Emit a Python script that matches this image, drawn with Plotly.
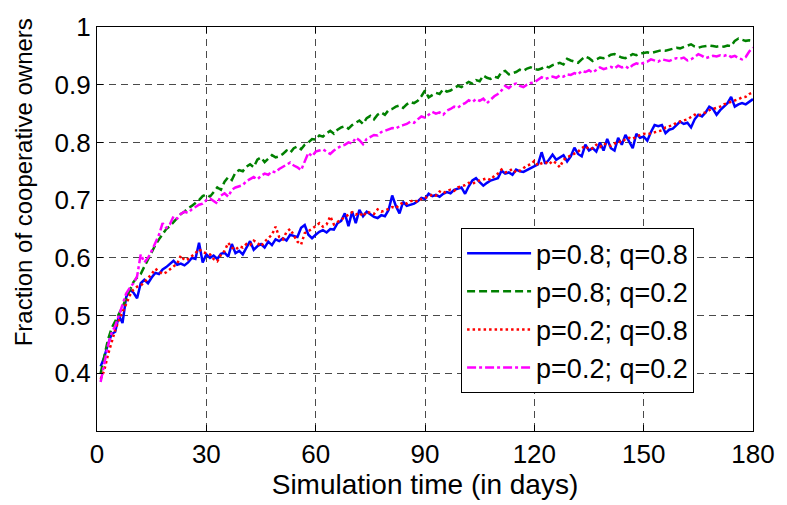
import plotly.graph_objects as go

# Simulation day (one sample per day)
days = list(range(1, 181))

# Fraction of cooperative owners for each (p, q) setting
frac_p08_q08 = [
    0.412, 0.428, 0.450, 0.468, 0.472, 0.500, 0.487, 0.532, 0.545, 0.540,
    0.530, 0.556, 0.562, 0.556, 0.566, 0.574, 0.572, 0.580, 0.584, 0.589,
    0.595, 0.588, 0.590, 0.587, 0.592, 0.600, 0.598, 0.626, 0.592, 0.606,
    0.600, 0.604, 0.598, 0.607, 0.609, 0.602, 0.624, 0.608, 0.612, 0.606,
    0.618, 0.629, 0.614, 0.620, 0.624, 0.618, 0.628, 0.622, 0.632, 0.629,
    0.634, 0.630, 0.640, 0.638, 0.636, 0.652, 0.657, 0.640, 0.634, 0.640,
    0.645, 0.648, 0.644, 0.650, 0.649, 0.660, 0.664, 0.677, 0.655, 0.680,
    0.660, 0.683, 0.672, 0.680, 0.676, 0.671, 0.669, 0.674, 0.672, 0.683,
    0.708, 0.690, 0.677, 0.697, 0.690, 0.692, 0.694, 0.698, 0.704, 0.702,
    0.711, 0.707, 0.709, 0.706, 0.711, 0.714, 0.712, 0.718, 0.720, 0.722,
    0.711, 0.724, 0.734, 0.738, 0.731, 0.725, 0.730, 0.734, 0.736, 0.738,
    0.751, 0.746, 0.748, 0.744, 0.753, 0.750, 0.749, 0.752, 0.755, 0.758,
    0.762, 0.783, 0.763, 0.770, 0.779, 0.770, 0.774, 0.778, 0.767, 0.776,
    0.791, 0.780, 0.776, 0.796, 0.786, 0.790, 0.784, 0.800, 0.786, 0.806,
    0.790, 0.786, 0.808, 0.796, 0.813, 0.800, 0.790, 0.815, 0.808, 0.810,
    0.803, 0.818, 0.830, 0.828, 0.830, 0.816, 0.822, 0.824, 0.830, 0.836,
    0.832, 0.834, 0.826, 0.840, 0.848, 0.845, 0.852, 0.862, 0.858, 0.848,
    0.856, 0.862, 0.868, 0.879, 0.862, 0.866, 0.868, 0.866, 0.870, 0.875,
]

frac_p08_q02 = [
    0.400, 0.430, 0.458, 0.478, 0.490, 0.502, 0.515, 0.530, 0.545, 0.558,
    0.566, 0.572, 0.585, 0.598, 0.610, 0.622, 0.632, 0.640, 0.650, 0.655,
    0.662, 0.668, 0.676, 0.680, 0.686, 0.690, 0.695, 0.700, 0.707, 0.710,
    0.706, 0.714, 0.722, 0.718, 0.732, 0.740, 0.735, 0.748, 0.752, 0.750,
    0.758, 0.762, 0.757, 0.770, 0.774, 0.766, 0.772, 0.778, 0.774, 0.776,
    0.780, 0.786, 0.782, 0.790, 0.793, 0.788, 0.796, 0.800, 0.806, 0.805,
    0.812, 0.810, 0.816, 0.820, 0.815, 0.822, 0.826, 0.828, 0.824, 0.830,
    0.834, 0.838, 0.832, 0.842, 0.846, 0.840, 0.848, 0.852, 0.848, 0.856,
    0.858, 0.862, 0.864, 0.860, 0.866, 0.870, 0.868, 0.872, 0.880, 0.890,
    0.878, 0.882, 0.886, 0.884, 0.892, 0.888, 0.890, 0.894, 0.898, 0.896,
    0.900, 0.905, 0.902, 0.908, 0.906, 0.916, 0.912, 0.910, 0.914, 0.912,
    0.922, 0.924, 0.918, 0.920, 0.922, 0.926, 0.924, 0.928, 0.930, 0.927,
    0.926, 0.928, 0.932, 0.930, 0.934, 0.936, 0.938, 0.935, 0.945, 0.942,
    0.940, 0.938, 0.944, 0.949, 0.946, 0.941, 0.944, 0.947, 0.946, 0.948,
    0.952, 0.953, 0.950, 0.947, 0.946, 0.950, 0.953, 0.951, 0.954, 0.955,
    0.956, 0.955, 0.957, 0.958, 0.960, 0.959, 0.961, 0.962, 0.964, 0.963,
    0.965, 0.968, 0.970, 0.966, 0.964, 0.966, 0.967, 0.968, 0.967, 0.966,
    0.967, 0.966, 0.968, 0.967, 0.976, 0.980, 0.978, 0.976, 0.977, 0.976,
]

frac_p02_q08 = [
    0.390, 0.405, 0.432, 0.455, 0.475, 0.492, 0.505, 0.520, 0.535, 0.545,
    0.550, 0.552, 0.558, 0.565, 0.572, 0.581, 0.576, 0.572, 0.575, 0.580,
    0.584, 0.590, 0.604, 0.596, 0.598, 0.603, 0.608, 0.615, 0.610, 0.608,
    0.606, 0.598, 0.594, 0.605, 0.612, 0.626, 0.618, 0.614, 0.620, 0.618,
    0.624, 0.622, 0.630, 0.626, 0.620, 0.628, 0.634, 0.640, 0.654, 0.636,
    0.632, 0.645, 0.650, 0.640, 0.628, 0.623, 0.643, 0.646, 0.650, 0.655,
    0.660, 0.654, 0.658, 0.672, 0.658, 0.662, 0.666, 0.670, 0.674, 0.679,
    0.675, 0.678, 0.672, 0.680, 0.678, 0.676, 0.684, 0.680, 0.682, 0.685,
    0.688, 0.686, 0.692, 0.696, 0.694, 0.698, 0.700, 0.697, 0.702, 0.704,
    0.706, 0.710, 0.708, 0.715, 0.712, 0.716, 0.718, 0.716, 0.722, 0.724,
    0.726, 0.730, 0.728, 0.732, 0.734, 0.736, 0.738, 0.735, 0.742, 0.746,
    0.753, 0.748, 0.750, 0.754, 0.748, 0.751, 0.756, 0.760, 0.762, 0.768,
    0.760, 0.764, 0.766, 0.762, 0.768, 0.764, 0.757, 0.770, 0.774, 0.777,
    0.780, 0.784, 0.790, 0.794, 0.788, 0.790, 0.796, 0.792, 0.798, 0.796,
    0.794, 0.798, 0.802, 0.800, 0.806, 0.808, 0.806, 0.810, 0.812, 0.815,
    0.814, 0.816, 0.818, 0.820, 0.821, 0.826, 0.828, 0.830, 0.834, 0.836,
    0.838, 0.840, 0.844, 0.848, 0.846, 0.850, 0.852, 0.856, 0.858, 0.860,
    0.862, 0.866, 0.868, 0.870, 0.872, 0.875, 0.878, 0.879, 0.884, 0.887,
]

frac_p02_q02 = [
    0.385, 0.418, 0.448, 0.470, 0.482, 0.500, 0.520, 0.538, 0.548, 0.556,
    0.568, 0.606, 0.592, 0.600, 0.612, 0.625, 0.640, 0.660, 0.652, 0.658,
    0.672, 0.668, 0.676, 0.680, 0.678, 0.684, 0.688, 0.692, 0.694, 0.700,
    0.703, 0.698, 0.694, 0.708, 0.712, 0.706, 0.718, 0.722, 0.724, 0.726,
    0.733, 0.737, 0.740, 0.736, 0.742, 0.746, 0.744, 0.750, 0.748, 0.754,
    0.758, 0.762, 0.765, 0.760, 0.757, 0.752, 0.768, 0.782, 0.776, 0.784,
    0.786, 0.788, 0.784, 0.780, 0.786, 0.790, 0.794, 0.796, 0.800, 0.798,
    0.808, 0.804, 0.797, 0.806, 0.810, 0.813, 0.812, 0.818, 0.820, 0.822,
    0.825, 0.824, 0.828, 0.830, 0.832, 0.836, 0.834, 0.840, 0.845, 0.843,
    0.848, 0.853, 0.850, 0.852, 0.848, 0.855, 0.858, 0.862, 0.860, 0.865,
    0.868, 0.873, 0.870, 0.875, 0.872, 0.876, 0.868, 0.874, 0.880, 0.884,
    0.890, 0.898, 0.894, 0.900, 0.902, 0.898, 0.896, 0.900, 0.903, 0.904,
    0.908, 0.913, 0.910, 0.912, 0.914, 0.912, 0.916, 0.914, 0.918, 0.917,
    0.920, 0.918, 0.924, 0.922, 0.925, 0.921, 0.926, 0.930, 0.927, 0.929,
    0.931, 0.928, 0.933, 0.930, 0.932, 0.928, 0.934, 0.937, 0.935, 0.938,
    0.940, 0.944, 0.942, 0.940, 0.944, 0.942, 0.941, 0.944, 0.946, 0.945,
    0.947, 0.942, 0.944, 0.948, 0.953, 0.950, 0.946, 0.948, 0.950, 0.949,
    0.951, 0.950, 0.952, 0.948, 0.950, 0.946, 0.944, 0.948, 0.958, 0.964,
]

series_names = ["p=0.8; q=0.8", "p=0.8; q=0.2", "p=0.2; q=0.8", "p=0.2; q=0.2"]
series_values = [frac_p08_q08, frac_p08_q02, frac_p02_q08, frac_p02_q02]

x_ticks = [0, 30, 60, 90, 120, 150, 180]
y_ticks = [0.4, 0.5, 0.6, 0.7, 0.8, 0.9, 1.0]
y_tick_labels = ["0.4", "0.5", "0.6", "0.7", "0.8", "0.9", "1"]

styles = [
    dict(color="#0000ff", dash="solid"),
    dict(color="#008000", dash="8px,4px"),
    dict(color="#ff0000", dash="2.5px,3px"),
    dict(color="#ff00ff", dash="9px,3px,3px,3px"),
]

FONT = "Liberation Sans, Arial, sans-serif"

fig = go.Figure()
for name, vals, st in zip(series_names, series_values, styles):
    fig.add_trace(go.Scatter(
        x=days, y=vals, mode="lines", name=name,
        line=dict(color=st["color"], dash=st["dash"], width=2.5),
    ))

axis_common = dict(
    showline=True, linecolor="black", linewidth=1.2, mirror="ticks",
    ticks="inside", ticklen=6, tickcolor="black", tickwidth=1,
    showgrid=True, gridcolor="#4a4a4a", gridwidth=1, griddash="7px,5px",
    zeroline=False, tickfont=dict(family=FONT, size=26, color="black"),
)

fig.update_xaxes(
    range=[0, 180], tickvals=x_ticks, ticktext=[str(t) for t in x_ticks],
    title=dict(text="Simulation time (in days)", standoff=4,
               font=dict(family=FONT, size=28, color="black")),
    **axis_common,
)
fig.update_yaxes(
    range=[0.3, 1.0], tickvals=y_ticks, ticktext=y_tick_labels,
    **axis_common,
)

# y-axis label, placed as a rotated annotation
fig.add_annotation(
    text="Fraction of cooperative owners", textangle=-90,
    xref="paper", yref="paper", x=-0.1116, y=0.615,
    xanchor="center", yanchor="middle", showarrow=False,
    font=dict(family=FONT, size=24, color="black"),
)

fig.update_layout(
    width=787, height=505,
    margin=dict(l=97, r=27, t=19, b=72, pad=0),
    paper_bgcolor="white", plot_bgcolor="white",
    showlegend=True,
    legend=dict(
        x=0.555, y=0.502, xanchor="left", yanchor="top",
        bgcolor="white", bordercolor="black", borderwidth=1,
        font=dict(family=FONT, size=27, color="black"),
        itemwidth=64,
    ),
)

fig.write_html("out.html")
